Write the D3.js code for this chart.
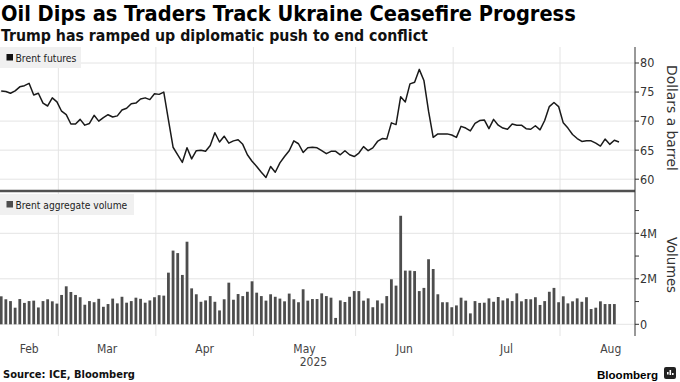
<!DOCTYPE html>
<html><head><meta charset="utf-8">
<script src="https://cdn.jsdelivr.net/npm/d3@7"></script>
<style>html,body{margin:0;padding:0;background:#fff;}svg{display:block;}</style>
</head><body><svg id="c" width="680" height="382"></svg>
<script>
// ---- data ----
const startDate = "2025-02-12";
const holidays = ["2025-04-18"];
const price = [75.2,75.1,74.8,75.2,75.9,76.1,76.5,74.5,74.8,73.1,72.6,74.0,73.3,
 71.7,71.1,69.5,69.5,70.3,69.3,69.6,71.0,70.0,70.6,71.1,70.7,70.9,71.9,72.2,73.0,73.1,73.8,74.0,73.7,74.7,
 74.6,75.0,70.2,65.5,64.2,62.9,65.4,63.5,64.9,65.0,64.8,65.8,68.0,66.4,67.4,66.2,66.6,66.8,66.0,64.2,63.1,
 62.2,61.2,60.3,62.2,61.2,62.8,63.9,64.9,66.6,66.1,64.6,65.4,65.5,65.4,64.9,64.4,64.8,64.8,64.2,64.9,64.2,63.9,
 64.5,65.6,64.9,65.4,66.5,67.0,66.9,69.7,69.4,74.2,73.3,76.4,76.7,78.9,77.0,71.7,67.2,67.8,67.8,67.8,67.6,
 67.2,69.1,68.8,68.3,69.6,70.1,70.2,68.7,70.3,69.3,68.8,68.6,69.5,69.3,69.3,68.7,68.6,69.2,68.5,70.1,72.5,73.2,72.5,
 69.7,68.8,67.7,67.0,66.5,66.6,66.6,66.2,65.7,66.9,66.0,66.7,66.4];
const volume = [1.23,1.10,1.02,0.73,1.11,0.94,1.02,1.04,0.74,1.02,1.10,1.01,0.91,
 1.29,1.67,1.42,1.29,1.19,0.86,1.02,0.97,1.12,0.77,0.89,1.13,0.92,1.21,0.95,1.02,1.17,1.12,0.95,1.05,1.19,
 1.28,1.26,2.27,3.24,3.13,2.17,3.63,1.58,1.32,0.99,1.05,1.24,0.99,0.61,1.10,1.83,1.08,1.33,1.24,1.43,1.89,
 1.39,1.24,1.04,1.32,1.21,1.13,1.01,1.35,1.10,0.97,1.54,1.04,1.11,1.11,1.36,1.24,1.17,0.28,1.05,0.98,1.21,1.46,
 1.46,1.04,1.14,0.75,1.05,0.92,1.24,1.98,1.70,4.77,2.36,2.36,2.34,1.46,1.60,2.86,2.43,1.32,0.97,0.97,0.75,
 0.83,1.17,1.04,0.48,1.02,0.94,0.95,1.14,0.99,1.20,1.05,1.14,1.02,1.36,1.01,1.11,1.10,1.19,0.85,1.02,1.43,1.60,0.97,
 1.23,0.92,1.01,1.14,0.99,1.19,0.67,0.73,1.01,0.89,0.89,0.89]; // millions
const priceTicks = [60,65,70,75,80];
const volTicks = [0,1,2,3,4,5];
const volLabels = {0:"0",2:"2M",4:"4M"};
const monthNames = ["Jan","Feb","Mar","Apr","May","Jun","Jul","Aug","Sep","Oct","Nov","Dec"];
const augTradingDays = 21;

// trading dates
const fmt = d3.utcFormat("%Y-%m-%d");
const dates = [];
for (let d = new Date(startDate + "T00:00:00Z"); dates.length < price.length; d = d3.utcDay.offset(d, 1)) {
  const wd = d.getUTCDay();
  if (wd === 0 || wd === 6 || holidays.includes(fmt(d))) continue;
  dates.push(new Date(d));
}

const svg = d3.select("#c");
const FONT = "'DejaVu Sans Condensed','DejaVu Sans',sans-serif";
svg.append("rect").attr("width",680).attr("height",382).attr("fill","#fff");

const x = d3.scaleLinear().domain([0, 133]).range([1.2, 619.0]);
const yP = d3.scaleLinear().domain([60, 80]).range([179.2, 63]);
const yV = d3.scaleLinear().domain([0, 4]).range([324.3, 233.3]);
const plotL = 0, plotR = 635, topT = 47, topB = 191, botB = 336;

// month boundaries
const months = [];
dates.forEach((d,i) => {
  const m = d.getUTCMonth();
  if (!months.length || months[months.length-1].m !== m) months.push({m, start:i});
});
const grid = svg.append("g");
months.slice(1).forEach(mo => {
  const gx = x(mo.start - 0.7);
  grid.append("line").attr("x1",gx).attr("x2",gx).attr("y1",topT).attr("y2",botB)
    .attr("stroke","#e4e4e4").attr("stroke-width",1);
});
// horizontal grids
priceTicks.forEach(t => grid.append("line").attr("x1",plotL).attr("x2",plotR)
  .attr("y1",yP(t)).attr("y2",yP(t)).attr("stroke","#e4e4e4"));
[0,2,4].forEach(t => grid.append("line").attr("x1",plotL).attr("x2",plotR)
  .attr("y1",yV(t)).attr("y2",yV(t)).attr("stroke","#e4e4e4"));

// bars
svg.append("g").selectAll("rect").data(volume).join("rect")
  .attr("x",(d,i)=>x(i)-1.4).attr("width",2.8)
  .attr("y",d=>yV(d)).attr("height",d=>yV(0)-yV(d)).attr("fill","#4d4d4d");

// line
svg.append("path").datum(price)
  .attr("d", d3.line().x((d,i)=>x(i)).y(d=>yP(d)))
  .attr("fill","none").attr("stroke","#1a1a1a").attr("stroke-width",1.5).attr("stroke-linejoin","round");

// separator
svg.append("line").attr("x1",0).attr("x2",plotR).attr("y1",topB).attr("y2",topB)
  .attr("stroke","#505050").attr("stroke-width",2.5);

// right axis
const axG = svg.append("g");
axG.append("line").attr("x1",plotR).attr("x2",plotR).attr("y1",topT).attr("y2",botB)
  .attr("stroke","#333").attr("stroke-width",1);
priceTicks.forEach(t => {
  axG.append("line").attr("x1",plotR).attr("x2",plotR+4).attr("y1",yP(t)).attr("y2",yP(t)).attr("stroke","#333");
  axG.append("text").attr("x",plotR+5).attr("y",yP(t)).attr("dy","0.35em").attr("font-family",FONT)
    .attr("font-size",12.5).attr("fill","#333").text(t);
});
volTicks.forEach(t => {
  axG.append("line").attr("x1",plotR).attr("x2",plotR+4).attr("y1",yV(t)).attr("y2",yV(t)).attr("stroke","#333");
  if (volLabels[t]!==undefined) axG.append("text").attr("x",plotR+5).attr("y",yV(t)).attr("dy","0.35em").attr("font-family",FONT)
    .attr("font-size",12.5).attr("fill","#333").text(volLabels[t]);
});

function fit(sel, w){ const l = sel.node().getComputedTextLength(); sel.attr("font-size", parseFloat(sel.attr("font-size"))*w/l); return sel; }

const t1 = axG.append("text").attr("transform","translate(667,118) rotate(90)").attr("text-anchor","middle")
  .attr("font-family","'DejaVu Sans',sans-serif").attr("font-size",14).attr("fill","#333").text("Dollars a barrel");
fit(t1,106);
const t2 = axG.append("text").attr("transform","translate(667,265) rotate(90)").attr("text-anchor","middle")
  .attr("font-family","'DejaVu Sans',sans-serif").attr("font-size",14).attr("fill","#333").text("Volumes");
fit(t2,56);

// month labels
months.forEach((mo,k) => {
  const left = k===0 ? plotL : x(mo.start - 0.7);
  const right = k<months.length-1 ? x(months[k+1].start - 0.7) : x(mo.start - 0.7 + augTradingDays);
  svg.append("text").attr("x",(left+right)/2 + (k===months.length-1?2:0)).attr("y",353).attr("text-anchor","middle")
    .attr("font-family",FONT).attr("font-size",12).attr("fill","#444").text(monthNames[mo.m]);
});
svg.append("text").attr("x",x(months.find(m=>m.m===4).start - 0.7) + 60).attr("y",366).attr("text-anchor","middle")
  .attr("font-family",FONT).attr("font-size",12).attr("fill","#444").text("2025");

// legends
function legend(y0, w, label, color, tw){
  svg.append("rect").attr("x",0).attr("y",y0).attr("width",w).attr("height",21).attr("fill","#f0f0f0");
  svg.append("rect").attr("x",6.5).attr("y",y0+7).attr("width",6.5).attr("height",6.5).attr("fill",color);
  const t = svg.append("text").attr("x",15.5).attr("y",y0+14.7).attr("font-family",FONT).attr("font-size",11)
    .attr("fill","#222").text(label);
  fit(t,tw);
}
legend(47, 81, "Brent futures", "#111", 61);
legend(194, 134, "Brent aggregate volume", "#4d4d4d", 112);

// titles
fit(svg.append("text").attr("x",1).attr("y",21).attr("font-family",FONT).attr("font-weight","bold")
  .attr("font-size",19).attr("fill","#000").text("Oil Dips as Traders Track Ukraine Ceasefire Progress"),575);
fit(svg.append("text").attr("x",1).attr("y",40.5).attr("font-family",FONT).attr("font-weight","bold")
  .attr("font-size",14).attr("fill","#111").text("Trump has ramped up diplomatic push to end conflict"),427);

// footer
fit(svg.append("text").attr("x",3).attr("y",378).attr("font-family",FONT).attr("font-weight","bold")
  .attr("font-size",11).attr("fill","#111").text("Source: ICE, Bloomberg"),132);
fit(svg.append("text").attr("x",597).attr("y",379).attr("font-family","'Liberation Sans',Arial,sans-serif").attr("font-weight","bold")
  .attr("font-size",13).attr("fill","#000").text("Bloomberg"),61);
const ic = svg.append("g").attr("transform","translate(664,367)");
ic.append("rect").attr("width",12).attr("height",12).attr("rx",2).attr("fill","#222");
[[3,5,2.5],[5.5,3,5],[8,6,2]].forEach(([bx,by,bh])=>ic.append("rect").attr("x",bx).attr("y",by).attr("width",1.6).attr("height",bh).attr("fill","#fff"));
</script></body></html>
